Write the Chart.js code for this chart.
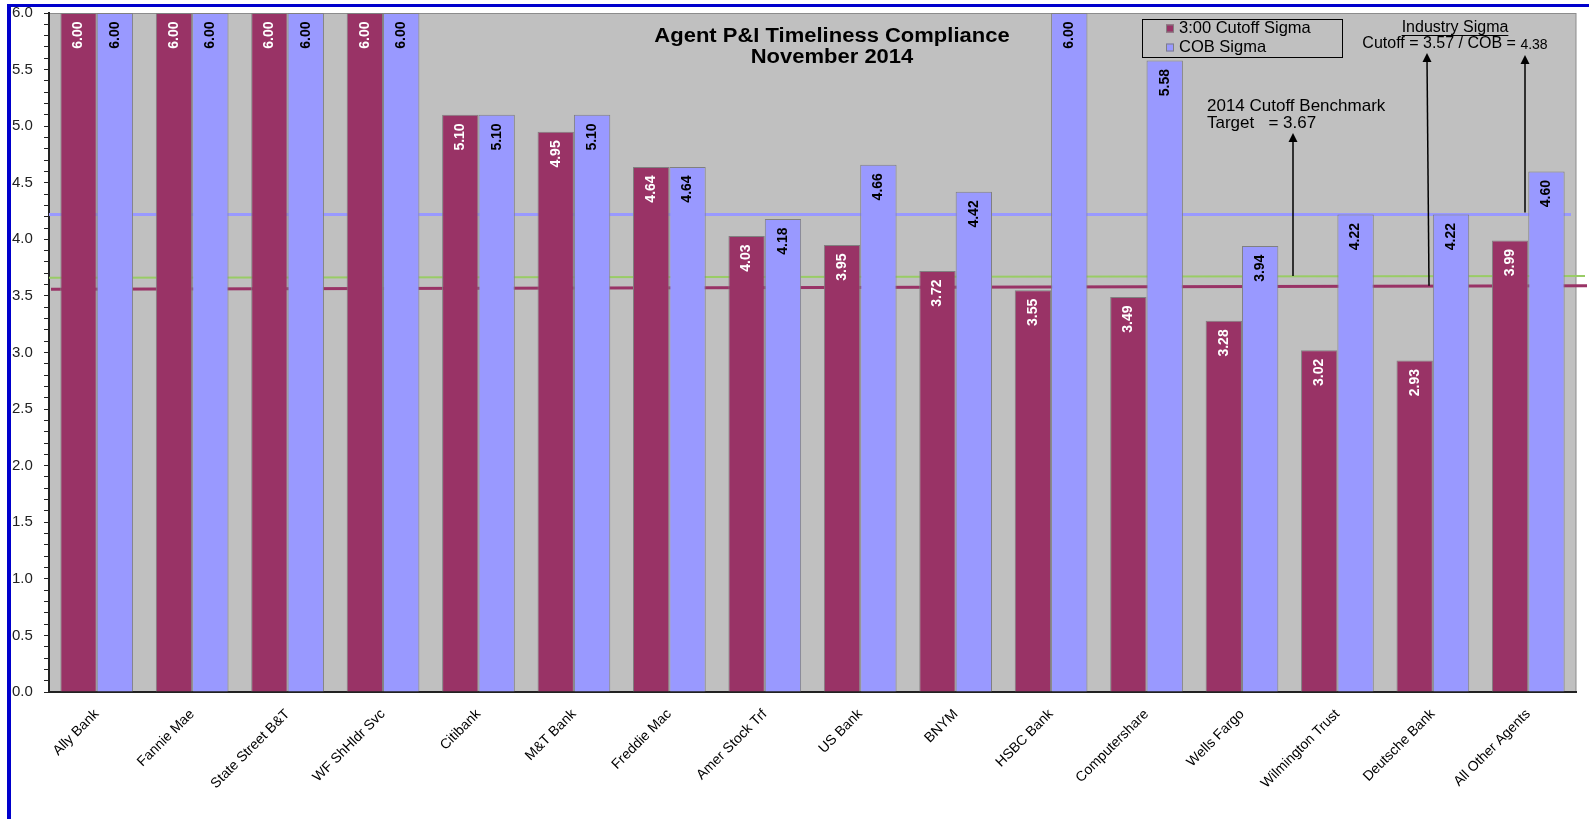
<!DOCTYPE html>
<html>
<head>
<meta charset="utf-8">
<title>Agent P&I Timeliness Compliance</title>
<script src="https://cdn.jsdelivr.net/npm/chart.js@4.4.1/dist/chart.umd.min.js"></script>
<style>
  html, body { margin: 0; padding: 0; background: #fff; }
  #wrap { position: relative; width: 1589px; height: 819px; }
</style>
</head>
<body>
<div id="wrap"><canvas id="sigmaChart" width="1589" height="819"></canvas></div>
<script>
// chart values
var agents = ['Ally Bank', 'Fannie Mae', 'State Street B&T', 'WF ShHldr Svc', 'Citibank', 'M&T Bank',
  'Freddie Mac', 'Amer Stock Trf', 'US Bank', 'BNYM', 'HSBC Bank', 'Computershare', 'Wells Fargo',
  'Wilmington Trust', 'Deutsche Bank', 'All Other Agents'];
var cutoffSigma = [6.00, 6.00, 6.00, 6.00, 5.10, 4.95, 4.64, 4.03, 3.95, 3.72, 3.55, 3.49, 3.28, 3.02, 2.93, 3.99];
var cobSigma = [6.00, 6.00, 6.00, 6.00, 5.10, 5.10, 4.64, 4.18, 4.66, 4.42, 6.00, 5.58, 3.94, 4.22, 4.22, 4.60];

// horizontal reference lines (value at left end, value at right end)
var cobIndustryLine = [4.22, 4.22];
var benchmarkLine = [3.66, 3.675];
var cutoffIndustryLine = [3.56, 3.59];

var titleLines = ['Agent P&I Timeliness Compliance', 'November 2014'];
var seriesNames = ['3:00 Cutoff Sigma', 'COB Sigma'];

var FONT = '"Liberation Sans", Arial, sans-serif';
var RED = '#993366', BLUE = '#9999FF', GREEN = '#99CC66';

function arrow(ctx, x0, y0, x1, y1) {
  ctx.save();
  ctx.strokeStyle = '#000';
  ctx.fillStyle = '#000';
  ctx.lineWidth = 1.5;
  ctx.beginPath();
  ctx.moveTo(x0, y0);
  ctx.lineTo(x1, y1 + 6);
  ctx.stroke();
  ctx.beginPath();
  ctx.moveTo(x1, y1);
  ctx.lineTo(x1 - 4.5, y1 + 9);
  ctx.lineTo(x1 + 4.5, y1 + 9);
  ctx.closePath();
  ctx.fill();
  ctx.restore();
}

var decor = {
  id: 'decor',
  beforeDraw: function (chart) {
    var ctx = chart.ctx, a = chart.chartArea;
    ctx.save();
    ctx.fillStyle = '#C0C0C0';
    ctx.fillRect(a.left, a.top, a.right - a.left, a.bottom - a.top);
    ctx.strokeStyle = '#8c8c8c';
    ctx.lineWidth = 1;
    ctx.strokeRect(a.left, a.top + 0.5, a.right - a.left, a.bottom - a.top);
    // blue frame
    ctx.fillStyle = '#0000CC';
    ctx.fillRect(7, 5, 4, chart.height - 5);
    ctx.fillRect(7, 4, chart.width - 7, 3);
    ctx.restore();
  },
  beforeDatasetsDraw: function (chart) {
    var ctx = chart.ctx, a = chart.chartArea, y = chart.scales.y;
    var lines = [
      { v: cobIndustryLine, c: BLUE, w: 3, x0: a.left, x1: a.right - 5 },
      { v: benchmarkLine, c: GREEN, w: 2, x0: a.left, x1: a.right + 9 },
      { v: cutoffIndustryLine, c: RED, w: 3, x0: a.left + 2, x1: a.right + 11 }
    ];
    ctx.save();
    lines.forEach(function (l) {
      ctx.strokeStyle = l.c;
      ctx.lineWidth = l.w;
      ctx.beginPath();
      ctx.moveTo(l.x0, y.getPixelForValue(l.v[0]));
      ctx.lineTo(l.x1, y.getPixelForValue(l.v[1]));
      ctx.stroke();
    });
    ctx.restore();
  },
  afterDatasetsDraw: function (chart) {
    var ctx = chart.ctx;
    ctx.save();
    ctx.font = 'bold 14px "Liberation Sans Narrow", "Arial Narrow", ' + FONT;
    ctx.textAlign = 'right';
    ctx.textBaseline = 'middle';
    chart.data.datasets.forEach(function (ds, di) {
      chart.getDatasetMeta(di).data.forEach(function (bar, i) {
        ctx.save();
        ctx.translate(bar.x, bar.y + 8.5);
        ctx.rotate(-Math.PI / 2);
        ctx.fillStyle = di === 0 ? '#fff' : '#000';
        ctx.fillText(ds.data[i].toFixed(2), 0, 0);
        ctx.restore();
      });
    });
    ctx.restore();
  },
  afterDraw: function (chart) {
    var ctx = chart.ctx, y = chart.scales.y;
    ctx.save();
    // title (the original is a little stretched sideways)
    ctx.fillStyle = '#000';
    ctx.textAlign = 'center';
    ctx.textBaseline = 'middle';
    ctx.font = 'bold 20px ' + FONT;
    ctx.save();
    ctx.translate(832, 0);
    ctx.scale(1.1, 1);
    ctx.fillText(titleLines[0], 0, 36);
    ctx.fillText(titleLines[1], 0, 57);
    ctx.restore();

    // legend
    ctx.strokeStyle = '#000';
    ctx.lineWidth = 1;
    ctx.strokeRect(1142.5, 19.5, 200, 38);
    ctx.font = '16.5px ' + FONT;
    ctx.textAlign = 'left';
    [RED, BLUE].forEach(function (c, i) {
      var cy = 28.5 + i * 19;
      ctx.fillStyle = c;
      ctx.fillRect(1166, cy - 4, 8, 8);
      ctx.strokeStyle = '#808080';
      ctx.strokeRect(1166.5, cy - 3.5, 7, 7);
      ctx.fillStyle = '#000';
      ctx.fillText(seriesNames[i], 1179, cy);
    });

    // industry sigma note
    ctx.font = '16px ' + FONT;
    ctx.textAlign = 'center';
    ctx.fillText('Industry Sigma', 1455, 28);
    var w = ctx.measureText('Industry Sigma').width;
    ctx.fillRect(1455 - w / 2, 35, w, 1);
    ctx.textAlign = 'left';
    var part1 = 'Cutoff = 3.57 / COB = ';
    var w1 = ctx.measureText(part1).width;
    ctx.font = '14px ' + FONT;
    var w2 = ctx.measureText('4.38').width;
    var sx = 1455 - (w1 + w2) / 2;
    ctx.font = '16px ' + FONT;
    ctx.fillText(part1, sx, 44);
    ctx.font = '14px ' + FONT;
    ctx.fillText('4.38', sx + w1, 45);

    // benchmark note
    ctx.font = '17px ' + FONT;
    ctx.fillText('2014 Cutoff Benchmark', 1207, 106);
    ctx.fillText('Target   = 3.67', 1207, 123);

    // arrows from the reference lines up to the notes
    arrow(ctx, 1293, y.getPixelForValue(benchmarkLine[1]), 1293, 133);
    arrow(ctx, 1429, y.getPixelForValue(cutoffIndustryLine[1]), 1427, 53);
    arrow(ctx, 1525, y.getPixelForValue(cobIndustryLine[1]) - 2, 1525, 55);
    ctx.restore();
  }
};

var ctx = document.getElementById('sigmaChart').getContext('2d');
var sigmaChart = new Chart(ctx, {
  type: 'bar',
  data: {
    labels: agents,
    datasets: [{
      label: seriesNames[0],
      data: cutoffSigma,
      backgroundColor: RED,
      borderColor: '#808080',
      borderWidth: 1,
      categoryPercentage: 0.762,
      barPercentage: 1.0
    }, {
      label: seriesNames[1],
      data: cobSigma,
      backgroundColor: BLUE,
      borderColor: '#808080',
      borderWidth: 1,
      categoryPercentage: 0.762,
      barPercentage: 1.0
    }]
  },
  options: {
    responsive: false,
    animation: false,
    events: [],
    layout: { padding: { left: 12, top: 12, right: 13, bottom: 0 } },
    plugins: { legend: { display: false }, tooltip: { enabled: false }, title: { display: false } },
    scales: {
      x: {
        grid: { display: false },
        border: { color: '#222', width: 2 },
        ticks: {
          color: '#000',
          font: { family: FONT, size: 14 },
          minRotation: 45,
          maxRotation: 45,
          autoSkip: false,
          padding: 6
        },
        afterFit: function (s) { s.height = 127; }
      },
      y: {
        min: 0,
        max: 6,
        grid: { drawOnChartArea: false, tickLength: 5, color: '#222', tickWidth: 1 },
        border: { color: '#222', width: 2 },
        ticks: {
          stepSize: 0.1,
          autoSkip: false,
          color: '#222',
          crossAlign: 'far',
          padding: 4,
          font: { family: FONT, size: 15 },
          callback: function (v) {
            var t = Math.round(v * 10);
            return t % 5 === 0 ? (t / 10).toFixed(1) : '';
          }
        },
        afterFit: function (s) { s.width = 37; }
      }
    }
  },
  plugins: [decor]
});
</script>
</body>
</html>
